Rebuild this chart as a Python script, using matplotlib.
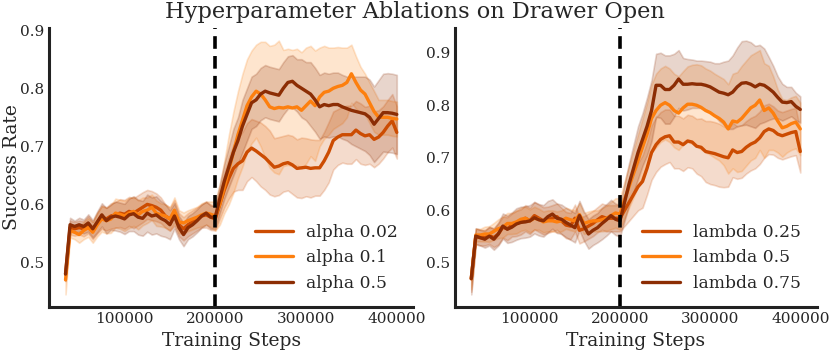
import numpy as np
import matplotlib
matplotlib.use("Agg")
import matplotlib.pyplot as plt
import seaborn as sns

steps = list(range(35000, 400001, 5000))

# left panel: alpha ablation (mean, std)
alpha_002 = [0.48, 0.56, 0.558, 0.56, 0.558, 0.565, 0.555, 0.568, 0.578, 0.575, 0.58, 0.582, 0.585, 0.583,
             0.588, 0.585, 0.59, 0.595, 0.60, 0.598, 0.595, 0.59, 0.58, 0.575, 0.585, 0.565, 0.558, 0.565,
             0.57, 0.575, 0.58, 0.582, 0.578, 0.575,
             0.60, 0.625, 0.645, 0.662, 0.67, 0.675, 0.69, 0.697, 0.692, 0.686, 0.68, 0.672, 0.664, 0.666,
             0.67, 0.672, 0.668, 0.662, 0.663, 0.664, 0.662, 0.663, 0.663, 0.675, 0.69, 0.71, 0.716, 0.72,
             0.72, 0.72, 0.728, 0.722, 0.718, 0.72, 0.712, 0.716, 0.724, 0.735, 0.744, 0.724]
alpha_01 = [0.47, 0.555, 0.552, 0.548, 0.555, 0.56, 0.552, 0.565, 0.575, 0.572, 0.575, 0.585, 0.583, 0.58,
            0.585, 0.588, 0.582, 0.588, 0.59, 0.595, 0.585, 0.582, 0.58, 0.575, 0.59, 0.57, 0.568, 0.572,
            0.575, 0.578, 0.582, 0.585, 0.583, 0.58,
            0.60, 0.63, 0.66, 0.69, 0.72, 0.745, 0.77, 0.785, 0.795, 0.79, 0.78, 0.768, 0.765, 0.767,
            0.766, 0.768, 0.766, 0.768, 0.762, 0.77, 0.778, 0.77, 0.785, 0.793, 0.795, 0.80, 0.803, 0.805,
            0.81, 0.825, 0.81, 0.797, 0.79, 0.775, 0.76, 0.75, 0.75, 0.75, 0.748, 0.747]
alpha_05 = [0.48, 0.565, 0.562, 0.565, 0.562, 0.568, 0.558, 0.57, 0.582, 0.572, 0.578, 0.58, 0.578, 0.575,
            0.582, 0.584, 0.578, 0.576, 0.585, 0.58, 0.582, 0.576, 0.572, 0.565, 0.58, 0.56, 0.548, 0.56,
            0.565, 0.572, 0.58, 0.585, 0.578, 0.578,
            0.61, 0.64, 0.665, 0.69, 0.71, 0.735, 0.755, 0.775, 0.78, 0.79, 0.795, 0.792, 0.79, 0.788,
            0.80, 0.81, 0.812, 0.805, 0.80, 0.795, 0.79, 0.78, 0.768, 0.772, 0.77, 0.772, 0.772, 0.768,
            0.765, 0.762, 0.76, 0.758, 0.756, 0.75, 0.738, 0.748, 0.758, 0.758, 0.757, 0.755]
alpha_002_sd = [0.01, 0.012, 0.012, 0.012, 0.013, 0.015, 0.015, 0.018, 0.02, 0.02, 0.022, 0.022, 0.024, 0.025,
                0.025, 0.026, 0.026, 0.026, 0.025, 0.025, 0.024, 0.022, 0.02, 0.02, 0.022, 0.02, 0.02, 0.02,
                0.02, 0.02, 0.02, 0.022, 0.022, 0.02,
                0.025, 0.03, 0.035, 0.04, 0.045, 0.05, 0.05, 0.05, 0.052, 0.055, 0.055, 0.055, 0.05, 0.05,
                0.048, 0.048, 0.05, 0.05, 0.052, 0.05, 0.05, 0.048, 0.048, 0.05, 0.052, 0.05, 0.048, 0.048,
                0.05, 0.05, 0.05, 0.052, 0.05, 0.05, 0.048, 0.046, 0.045, 0.045, 0.046, 0.045]
alpha_01_sd = [0.025, 0.012, 0.012, 0.014, 0.015, 0.016, 0.018, 0.02, 0.022, 0.022, 0.024, 0.025, 0.025, 0.026,
               0.026, 0.025, 0.025, 0.024, 0.022, 0.022, 0.022, 0.02, 0.02, 0.02, 0.022, 0.02, 0.018, 0.018,
               0.018, 0.018, 0.02, 0.02, 0.022, 0.025,
               0.035, 0.045, 0.06, 0.07, 0.075, 0.08, 0.08, 0.08, 0.08, 0.09, 0.1, 0.105, 0.11, 0.115,
               0.1, 0.1, 0.1, 0.1, 0.1, 0.1, 0.095, 0.095, 0.085, 0.08, 0.075, 0.07, 0.068, 0.065,
               0.06, 0.05, 0.045, 0.04, 0.035, 0.035, 0.035, 0.03, 0.03, 0.03, 0.03, 0.03]
alpha_05_sd = [0.012, 0.012, 0.01, 0.012, 0.012, 0.015, 0.015, 0.018, 0.02, 0.022, 0.022, 0.025, 0.025, 0.026,
               0.028, 0.03, 0.03, 0.03, 0.032, 0.032, 0.032, 0.03, 0.028, 0.025, 0.022, 0.02, 0.02, 0.02,
               0.02, 0.02, 0.02, 0.02, 0.02, 0.02,
               0.025, 0.03, 0.035, 0.04, 0.04, 0.045, 0.045, 0.045, 0.045, 0.045, 0.045, 0.045, 0.045, 0.045,
               0.045, 0.045, 0.045, 0.045, 0.05, 0.05, 0.055, 0.055, 0.055, 0.055, 0.055, 0.055, 0.055, 0.055,
               0.055, 0.058, 0.06, 0.062, 0.064, 0.065, 0.065, 0.066, 0.067, 0.068, 0.068, 0.068]

# right panel: lambda ablation (mean, std)
lambda_025 = [0.47, 0.55, 0.548, 0.548, 0.552, 0.548, 0.555, 0.568, 0.565, 0.572, 0.575, 0.578, 0.585, 0.58,
              0.59, 0.585, 0.58, 0.582, 0.585, 0.588, 0.58, 0.572, 0.57, 0.585, 0.562, 0.565, 0.57, 0.575,
              0.582, 0.588, 0.585, 0.585, 0.585, 0.585,
              0.6, 0.615, 0.63, 0.645, 0.655, 0.68, 0.71, 0.725, 0.735, 0.74, 0.742, 0.73, 0.73, 0.725,
              0.732, 0.73, 0.722, 0.72, 0.712, 0.71, 0.708, 0.705, 0.702, 0.70, 0.715, 0.71, 0.712, 0.72,
              0.726, 0.73, 0.738, 0.75, 0.755, 0.752, 0.745, 0.742, 0.745, 0.748, 0.75, 0.712]
lambda_05 = [0.47, 0.553, 0.553, 0.555, 0.555, 0.56, 0.565, 0.568, 0.575, 0.575, 0.578, 0.583, 0.585, 0.58,
             0.585, 0.583, 0.578, 0.58, 0.58, 0.578, 0.58, 0.585, 0.582, 0.58, 0.592, 0.575, 0.578, 0.58,
             0.58, 0.582, 0.585, 0.59, 0.595, 0.593,
             0.62, 0.645, 0.67, 0.695, 0.72, 0.745, 0.775, 0.79, 0.8, 0.805, 0.8, 0.79, 0.785, 0.795,
             0.802, 0.802, 0.8, 0.796, 0.79, 0.786, 0.78, 0.775, 0.768, 0.755, 0.77, 0.768, 0.775, 0.785,
             0.795, 0.8, 0.81, 0.79, 0.795, 0.785, 0.77, 0.757, 0.76, 0.765, 0.768, 0.755]
lambda_075 = [0.47, 0.551, 0.548, 0.545, 0.551, 0.545, 0.555, 0.57, 0.564, 0.568, 0.574, 0.577, 0.578,
              0.58, 0.586, 0.582, 0.58, 0.588, 0.593, 0.585, 0.583, 0.577, 0.572, 0.567, 0.59, 0.57, 0.555,
              0.562, 0.567, 0.575, 0.582, 0.59, 0.583, 0.58,
              0.615, 0.65, 0.68, 0.71, 0.735, 0.76, 0.79, 0.838, 0.838, 0.83, 0.83, 0.838, 0.85, 0.84,
              0.84, 0.841, 0.84, 0.84, 0.838, 0.835, 0.83, 0.825, 0.823, 0.82, 0.825, 0.835, 0.842, 0.843,
              0.84, 0.835, 0.84, 0.838, 0.832, 0.825, 0.815, 0.806, 0.805, 0.807, 0.798, 0.792]
lambda_025_sd = [0.025, 0.015, 0.015, 0.015, 0.016, 0.018, 0.02, 0.02, 0.022, 0.022, 0.024, 0.024, 0.025, 0.025,
                 0.026, 0.026, 0.026, 0.025, 0.025, 0.025, 0.025, 0.025, 0.025, 0.026, 0.025, 0.024, 0.024,
                 0.024, 0.024, 0.025, 0.025, 0.025, 0.025, 0.025,
                 0.03, 0.035, 0.04, 0.045, 0.05, 0.05, 0.052, 0.052, 0.052, 0.052, 0.05, 0.05, 0.05, 0.05,
                 0.05, 0.05, 0.052, 0.055, 0.058, 0.06, 0.06, 0.06, 0.058, 0.055, 0.052, 0.05, 0.05, 0.05,
                 0.05, 0.05, 0.05, 0.05, 0.048, 0.046, 0.045, 0.045, 0.045, 0.045, 0.045, 0.04]
lambda_05_sd = [0.02, 0.012, 0.012, 0.014, 0.015, 0.016, 0.018, 0.02, 0.02, 0.02, 0.022, 0.022, 0.022, 0.022,
                0.022, 0.02, 0.02, 0.02, 0.02, 0.02, 0.02, 0.02, 0.02, 0.02, 0.022, 0.02, 0.02, 0.02,
                0.02, 0.022, 0.024, 0.026, 0.028, 0.03,
                0.035, 0.04, 0.045, 0.05, 0.055, 0.06, 0.065, 0.07, 0.07, 0.07, 0.07, 0.07, 0.07, 0.07,
                0.072, 0.075, 0.078, 0.08, 0.08, 0.08, 0.08, 0.08, 0.082, 0.085, 0.09, 0.095, 0.1, 0.1,
                0.1, 0.1, 0.095, 0.09, 0.08, 0.07, 0.06, 0.055, 0.05, 0.05, 0.05, 0.05]
lambda_075_sd = [0.03, 0.015, 0.015, 0.016, 0.018, 0.02, 0.022, 0.024, 0.026, 0.028, 0.03, 0.03, 0.03, 0.03,
                 0.03, 0.03, 0.03, 0.03, 0.028, 0.028, 0.028, 0.028, 0.028, 0.028, 0.028, 0.028, 0.028,
                 0.028, 0.028, 0.03, 0.03, 0.03, 0.03, 0.03,
                 0.035, 0.04, 0.045, 0.05, 0.05, 0.055, 0.058, 0.06, 0.062, 0.065, 0.065, 0.06, 0.055, 0.05,
                 0.048, 0.046, 0.045, 0.045, 0.046, 0.048, 0.05, 0.055, 0.06, 0.065, 0.07, 0.075, 0.08, 0.08,
                 0.08, 0.078, 0.075, 0.07, 0.06, 0.05, 0.04, 0.035, 0.03, 0.028, 0.026, 0.025]

colors = ["#cc4c02", "#fd7f0e", "#8c2d04"]
switch_step = 200000

sns.set_style("white")
plt.rcParams["font.family"] = ["DejaVu Serif"]
plt.rcParams["axes.edgecolor"] = "#222222"

fig = plt.figure(figsize=(8.3, 3.63), dpi=100)
ax1 = fig.add_axes([0.059, 0.154, 0.439, 0.769])
ax2 = fig.add_axes([0.548, 0.154, 0.436, 0.769])

panels = [
    (ax1, [alpha_002, alpha_01, alpha_05], [alpha_002_sd, alpha_01_sd, alpha_05_sd],
     ["alpha 0.02", "alpha 0.1", "alpha 0.5"]),
    (ax2, [lambda_025, lambda_05, lambda_075], [lambda_025_sd, lambda_05_sd, lambda_075_sd],
     ["lambda 0.25", "lambda 0.5", "lambda 0.75"]),
]

x = np.array(steps)
for ax, means, sds, labels in panels:
    for m, s, c, lab in zip(means, sds, colors, labels):
        m = np.array(m)
        s = np.array(s)
        ax.fill_between(x, m - s, m + s, color=c, alpha=0.2, linewidth=1.2)
        ax.plot(x, m, color=c, linewidth=2.4, label=lab)
    ax.axvline(switch_step, color="black", linestyle=(0, (3.5, 2)), linewidth=2.6)
    ax.set_xticks([100000, 200000, 300000, 400000])
    ax.tick_params(labelsize=11, length=0)
    ax.set_xlabel("Training Steps", fontsize=13.5)
    for sp in ["top", "right"]:
        ax.spines[sp].set_visible(False)
    for sp in ["left", "bottom"]:
        ax.spines[sp].set_linewidth(2.2)
    ax.legend(loc="lower right", frameon=False, fontsize=12.3, handlelength=2.2)

ax1.set_yticks([0.5, 0.6, 0.7, 0.8, 0.9])
ax2.set_yticks([0.5, 0.6, 0.7, 0.8, 0.9])
ax1.set_ylabel("Success Rate", fontsize=13.5)
ax1.yaxis.set_label_coords(-0.078, 0.5)
fig.text(0.5, 0.966, "Hyperparameter Ablations on Drawer Open", fontsize=16.2,
         ha="center", va="center")

fig.savefig("out.png", dpi=100)
